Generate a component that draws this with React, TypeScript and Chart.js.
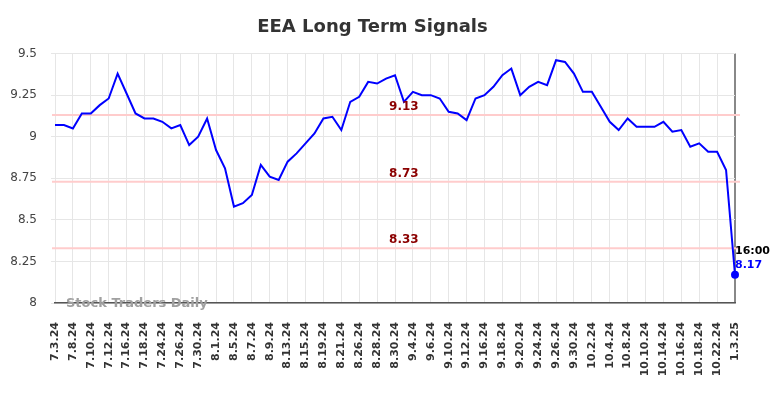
import React, { useEffect, useRef } from "react";
import { Chart, registerables } from "chart.js";

Chart.register(...registerables);

const chartTitle = "EEA Long Term Signals";
const watermark = "Stock Traders Daily";

const dates = [
  "7.3.24", "7.5.24", "7.8.24", "7.9.24", "7.10.24", "7.11.24", "7.12.24", "7.15.24",
  "7.16.24", "7.17.24", "7.18.24", "7.22.24", "7.24.24", "7.25.24", "7.26.24", "7.29.24",
  "7.30.24", "7.31.24", "8.1.24", "8.2.24", "8.5.24", "8.6.24", "8.7.24", "8.8.24",
  "8.9.24", "8.12.24", "8.13.24", "8.14.24", "8.15.24", "8.16.24", "8.19.24", "8.20.24",
  "8.21.24", "8.22.24", "8.26.24", "8.27.24", "8.28.24", "8.29.24", "8.30.24", "9.3.24",
  "9.4.24", "9.5.24", "9.6.24", "9.9.24", "9.10.24", "9.11.24", "9.12.24", "9.13.24",
  "9.16.24", "9.17.24", "9.18.24", "9.19.24", "9.20.24", "9.23.24", "9.24.24", "9.25.24",
  "9.26.24", "9.27.24", "9.30.24", "10.1.24", "10.2.24", "10.3.24", "10.4.24", "10.7.24",
  "10.8.24", "10.9.24", "10.10.24", "10.11.24", "10.14.24", "10.15.24", "10.16.24", "10.17.24",
  "10.18.24", "10.21.24", "10.22.24", "10.23.24", "1.3.25",
];

const prices = [
  9.07, 9.07, 9.05, 9.14, 9.14, 9.19, 9.23, 9.38,
  9.26, 9.14, 9.11, 9.11, 9.09, 9.05, 9.07, 8.95,
  9.0, 9.11, 8.92, 8.81, 8.58, 8.6, 8.65, 8.83,
  8.76, 8.74, 8.85, 8.9, 8.96, 9.02, 9.11, 9.12,
  9.04, 9.21, 9.24, 9.33, 9.32, 9.35, 9.37, 9.21,
  9.27, 9.25, 9.25, 9.23, 9.15, 9.14, 9.1, 9.23,
  9.25, 9.3, 9.37, 9.41, 9.25, 9.3, 9.33, 9.31,
  9.46, 9.45, 9.38, 9.27, 9.27, 9.18, 9.09, 9.04,
  9.11, 9.06, 9.06, 9.06, 9.09, 9.03, 9.04, 8.94,
  8.96, 8.91, 8.91, 8.8, 8.17,
];

const signalLevels = [9.13, 8.73, 8.33];
const signalTexts = ["9.13", "8.73", "8.33"];
const lastTimeText = "16:00";
const lastValueText = "8.17";

const yMin = 8;
const yMax = 9.5;
const yStep = 0.25;

const overlayPlugin = {
  id: "overlay",
  beforeDatasetsDraw(chart: any) {
    const { ctx, chartArea, scales } = chart;
    const y = scales.y;
    ctx.save();
    ctx.strokeStyle = "#ffcccc";
    ctx.lineWidth = 2;
    signalLevels.forEach((v) => {
      const py = y.getPixelForValue(v);
      ctx.beginPath();
      ctx.moveTo(chartArea.left - 3, py);
      ctx.lineTo(chartArea.right + 5, py);
      ctx.stroke();
    });
    ctx.restore();
  },
  afterDatasetsDraw(chart: any) {
    const { ctx, chartArea, scales } = chart;
    const x = scales.x;
    const y = scales.y;
    ctx.save();
    ctx.font = "bold 12px 'DejaVu Sans'";
    ctx.fillStyle = "#8b0000";
    ctx.textAlign = "center";
    ctx.textBaseline = "middle";
    const cx = chartArea.left + (chartArea.right - chartArea.left) * 0.513;
    signalLevels.forEach((v, i) => {
      const py = y.getPixelForValue(v);
      ctx.fillText(signalTexts[i], cx, py - 8);
    });

    const lastIdx = prices.length - 1;
    const lx = x.getPixelForValue(lastIdx);
    const ly = y.getPixelForValue(prices[lastIdx]);
    ctx.textAlign = "left";
    ctx.font = "bold 11px 'DejaVu Sans'";
    ctx.fillStyle = "#000000";
    ctx.fillText(lastTimeText, lx, ly - 24);
    ctx.fillStyle = "#0000ff";
    ctx.fillText(lastValueText, lx, ly - 10);

    ctx.font = "bold 13px 'DejaVu Sans'";
    ctx.fillStyle = "#a0a0a0";
    ctx.textBaseline = "alphabetic";
    ctx.fillText(watermark, chartArea.left + 11, chartArea.bottom + 4);
    ctx.restore();
  },
};

export default function App() {
  const canvasRef = useRef<HTMLCanvasElement | null>(null);

  useEffect(() => {
    if (!canvasRef.current) return;
    const lastIdx = prices.length - 1;
    const chart = new Chart(canvasRef.current, {
      type: "line",
      data: {
        labels: dates,
        datasets: [
          {
            data: prices,
            borderColor: "#0000ff",
            backgroundColor: "#0000ff",
            borderWidth: 2,
            tension: 0,
            fill: false,
            pointRadius: (c: any) => (c.dataIndex === lastIdx ? 4 : 0),
            pointBackgroundColor: "#0000ff",
            pointBorderWidth: 0,
          },
        ],
      },
      options: {
        animation: false,
        responsive: false,
        maintainAspectRatio: false,
        layout: { padding: { left: 10, right: 49, top: 0, bottom: 0 } },
        plugins: {
          legend: { display: false },
          tooltip: { enabled: false },
          title: {
            display: true,
            text: chartTitle,
            color: "#333333",
            font: { family: "'DejaVu Sans'", size: 18, weight: "bold" },
            padding: { top: 17, bottom: 15 },
          },
        },
        scales: {
          x: {
            type: "category",
            offset: false,
            border: { display: true, color: "#555555", width: 1.5 },
            grid: {
              drawTicks: false,
              color: (c: any) => (c.tick && c.tick.value === lastIdx ? "#888888" : "#e6e6e6"),
              lineWidth: (c: any) => (c.tick && c.tick.value === lastIdx ? 2 : 1),
            },
            ticks: {
              autoSkip: true,
              maxTicksLimit: 39,
              minRotation: 90,
              maxRotation: 90,
              padding: 19,
              color: "#333333",
              font: { family: "'DejaVu Sans'", size: 11, weight: "bold" },
            },
            afterFit: (s: any) => {
              s.height = 95;
            },
          },
          y: {
            min: yMin,
            max: yMax,
            border: { display: false },
            grid: { color: "#e6e6e6", drawTicks: true, tickLength: 4 },
            ticks: {
              stepSize: yStep,
              padding: 14,
              color: "#444444",
              font: { family: "'DejaVu Sans'", size: 12 },
              callback: (v: any) => String(Number(v)),
            },
            afterFit: (s: any) => {
              s.width = 45;
            },
          },
        },
      },
      plugins: [overlayPlugin],
    });
    return () => chart.destroy();
  }, []);

  return (
    <div style={{ position: "fixed", left: 0, top: 0, width: 784, height: 398, background: "#ffffff" }}>
      <canvas ref={canvasRef} width={784} height={398} style={{ width: 784, height: 398 }} />
    </div>
  );
}
